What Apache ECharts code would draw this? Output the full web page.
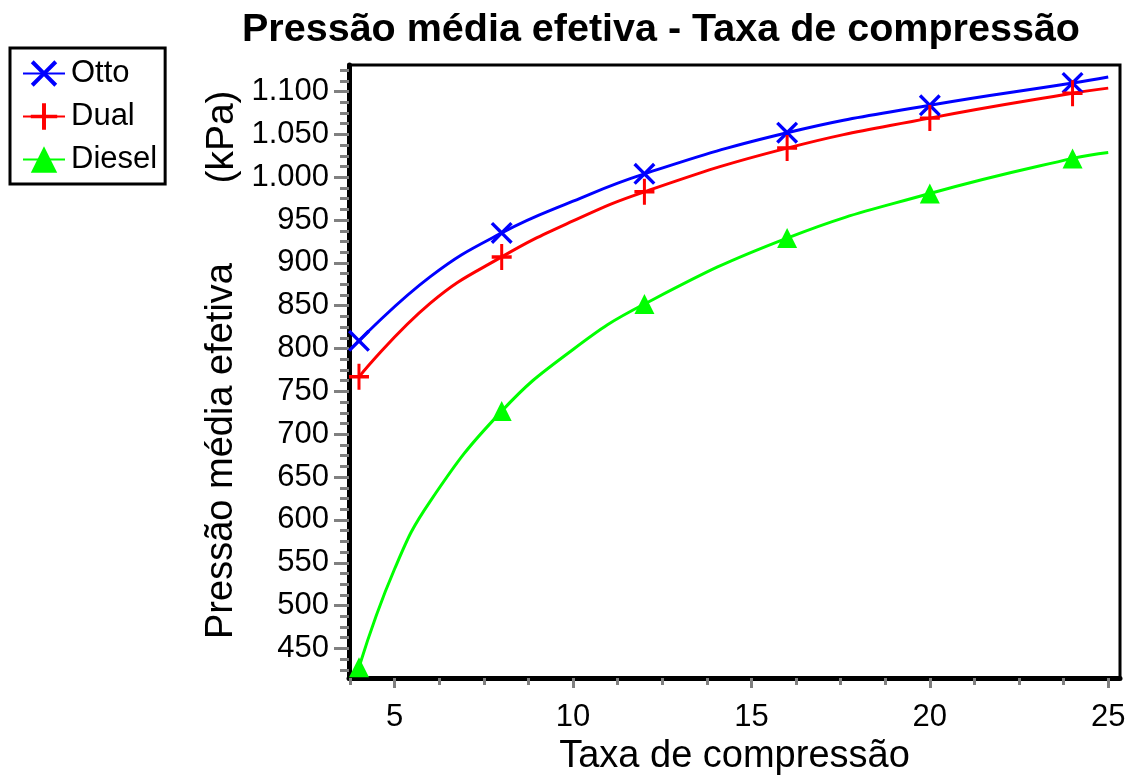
<!DOCTYPE html>
<html>
<head>
<meta charset="utf-8">
<script src="https://cdn.jsdelivr.net/npm/echarts@6/dist/echarts.min.js"></script>
<style>
html,body{margin:0;padding:0;background:#fff;}
#chart{width:1134px;height:776px;}
</style>
</head>
<body>
<div id="chart"></div>
<script>
// ---- data ----
var markerX = [4, 8, 12, 16, 20, 24];
var ottoX   = [4, 6, 8, 10, 12, 16, 20, 24, 25];
var ottoY   = [809, 884, 935, 972, 1004, 1052, 1084, 1110, 1117];
var dualX   = [4, 6, 8, 10, 12, 16, 20, 24, 25];
var dualY   = [767, 853, 907, 949, 983, 1034, 1069, 1098, 1104];
var dieselX = [4, 5, 6, 8, 10, 12, 16, 20, 24, 25];
var dieselY = [428, 543, 622, 727, 799, 852, 929, 981, 1022, 1029];
var xTickLabels = [5, 10, 15, 20, 25];
var xMinorTicks = [3.75, 6.25, 7.5, 8.75, 11.25, 12.5, 13.75, 16.25, 17.5, 18.75, 21.25, 22.5, 23.75];
var yTickLabels = [450, 500, 550, 600, 650, 700, 750, 800, 850, 900, 950, 1000, 1050, 1100];
var yMinorTicks = [425, 437.5, 462.5, 475, 487.5, 512.5, 525, 537.5, 562.5, 575, 587.5, 612.5, 625, 637.5,
  662.5, 675, 687.5, 712.5, 725, 737.5, 762.5, 775, 787.5, 812.5, 825, 837.5, 862.5, 875, 887.5,
  912.5, 925, 937.5, 962.5, 975, 987.5, 1012.5, 1025, 1037.5, 1062.5, 1075, 1087.5, 1112.5, 1125];

var FONT = '"Liberation Sans", Arial, sans-serif';
var SYM_X = 'path://M2.6,0 L12,9.4 L21.4,0 L24,2.6 L14.6,12 L24,21.4 L21.4,24 L12,14.6 L2.6,24 L0,21.4 L9.4,12 L0,2.6 Z';
var SYM_PLUS = 'path://M10.2,0 H13.8 V10.4 H24 V13.6 H13.8 V24 H10.2 V13.6 H0 V10.4 H10.2 Z';

function build(xs, ys) {
  return xs.map(function (x, i) {
    var item = { value: [x, ys[i]] };
    if (markerX.indexOf(x) < 0) item.symbol = 'none';
    return item;
  });
}
function fmt(v) {
  var s = String(Math.round(v));
  return s.replace(/\B(?=(\d{3})+(?!\d))/g, '.');
}

var chart = echarts.init(document.getElementById('chart'), null, {renderer: 'canvas'});
var lineBase = { type: 'line', smooth: 0.45, showSymbol: true, z: 3 };

chart.setOption({
  animation: false,
  backgroundColor: '#fff',
  title: {
    text: 'Pressão média efetiva - Taxa de compressão',
    left: 656, top: 5, textAlign: 'center',
    textStyle: { fontFamily: FONT, fontSize: 39.5, fontWeight: 'bold', color: '#000' }
  },
  legend: {
    orient: 'vertical', left: 10, top: 48,
    backgroundColor: '#fff', borderColor: '#000', borderWidth: 3, borderRadius: 0,
    padding: [10, 8, 9, 12], itemGap: 12, itemWidth: 42, itemHeight: 33,
    textStyle: { fontFamily: FONT, fontSize: 31, color: '#000', padding: [0, 0, 0, 1] },
    data: ['Otto', 'Dual', 'Diesel']
  },
  grid: { left: 349, top: 65, right: 14, bottom: 98, outerBoundsMode: 'none', containLabel: false,
    show: true, borderColor: '#000', borderWidth: 3, backgroundColor: 'transparent' },
  xAxis: [{
    type: 'value', min: 3.72, max: 25.33,
    name: 'Taxa de compressão', nameLocation: 'middle', nameGap: 57,
    nameTextStyle: { fontFamily: FONT, fontSize: 38, color: '#000' },
    axisLine: { show: true, onZero: false, lineStyle: { color: '#000', width: 5 } },
    axisTick: { show: true, inside: false, length: 10, customValues: xTickLabels, lineStyle: { color: '#808080', width: 3 } },
    axisLabel: { customValues: xTickLabels, margin: 24, fontFamily: FONT, fontSize: 31, color: '#000' },
    splitLine: { show: false }
  }, {
    type: 'value', min: 3.72, max: 25.33, position: 'bottom',
    axisLine: { show: false },
    axisTick: { show: true, inside: false, length: 7, customValues: xMinorTicks, lineStyle: { color: '#808080', width: 3 } },
    axisLabel: { show: false }, splitLine: { show: false }
  }],
  yAxis: [{
    type: 'value', min: 415.5, max: 1131,
    axisLine: { show: true, onZero: false, lineStyle: { color: '#000', width: 5 } },
    axisTick: { show: true, inside: false, length: 15, customValues: yTickLabels, lineStyle: { color: '#808080', width: 3 } },
    axisLabel: { customValues: yTickLabels, margin: 20, fontFamily: FONT, fontSize: 31, color: '#000', formatter: fmt },
    splitLine: { show: false }
  }, {
    type: 'value', min: 415.5, max: 1131, position: 'left',
    axisLine: { show: false },
    axisTick: { show: true, inside: false, length: 9, customValues: yMinorTicks, lineStyle: { color: '#808080', width: 3 } },
    axisLabel: { show: false }, splitLine: { show: false }
  }],
  graphic: [
    { type: 'text', x: 222, y: 451, rotation: Math.PI / 2,
      style: { text: 'Pressão média efetiva', font: '38px ' + FONT, fill: '#000', textAlign: 'center', textVerticalAlign: 'middle' } },
    { type: 'text', x: 222, y: 137, rotation: Math.PI / 2,
      style: { text: '(kPa)', font: '39px ' + FONT, fill: '#000', textAlign: 'center', textVerticalAlign: 'middle' } }
  ],
  series: [
    Object.assign({}, lineBase, {
      name: 'Otto', data: build(ottoX, ottoY), symbol: SYM_X, symbolSize: 22,
      lineStyle: { color: '#0000ff', width: 3 }, itemStyle: { color: '#0000ff', borderWidth: 0 }
    }),
    Object.assign({}, lineBase, {
      name: 'Dual', data: build(dualX, dualY), symbol: SYM_PLUS, symbolSize: [20, 26],
      lineStyle: { color: '#ff0000', width: 3 }, itemStyle: { color: '#ff0000', borderWidth: 0 }
    }),
    Object.assign({}, lineBase, {
      name: 'Diesel', data: build(dieselX, dieselY), symbol: 'triangle', symbolSize: [20, 20],
      lineStyle: { color: '#00ff00', width: 3 }, itemStyle: { color: '#00ff00', borderWidth: 0 }
    })
  ]
});
</script>
</body>
</html>
